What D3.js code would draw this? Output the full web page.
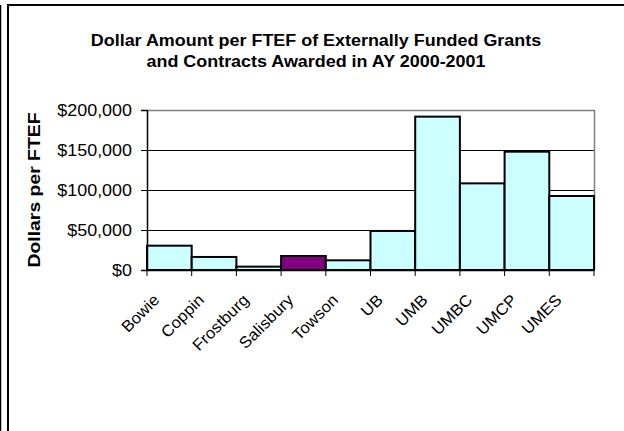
<!DOCTYPE html>
<html>
<head>
<meta charset="utf-8">
<script src="https://cdn.jsdelivr.net/npm/d3@7"></script>
<style>
  html, body { margin: 0; padding: 0; background: #fff; }
  svg { display: block; }
  text { font-family: "Liberation Sans", Arial, sans-serif; fill: #000; }
</style>
</head>
<body>
<script>
// ---- data ----
const categories = ["Bowie", "Coppin", "Frostburg", "Salisbury", "Towson", "UB", "UMB", "UMBC", "UMCP", "UMES"];
const values = [30400, 16300, 4200, 17500, 12100, 48800, 191700, 108300, 147900, 92500];
const highlighted = ["Salisbury"];
const yTickValues = [0, 50000, 100000, 150000, 200000];
const titleLines = ["Dollar Amount per FTEF of Externally Funded Grants", "and Contracts Awarded in AY 2000-2001"];
const yAxisTitle = "Dollars per FTEF";

// ---- layout ----
const W = 624, H = 431;
const plot = { left: 147, right: 594, top: 110, bottom: 270 };

const svg = d3.select("body").append("svg").attr("width", W).attr("height", H);

const x = d3.scaleBand().domain(categories).range([plot.left, plot.right]).padding(0);
const y = d3.scaleLinear().domain([0, 200000]).range([plot.bottom, plot.top]);

function stretch(sel, factor) {
  sel.each(function () {
    const len = this.getComputedTextLength();
    d3.select(this).attr("textLength", len * factor).attr("lengthAdjust", "spacingAndGlyphs");
  });
}

// frame lines
svg.append("line").attr("x1", 0.5).attr("x2", 0.5).attr("y1", 5).attr("y2", H).attr("stroke", "#000").attr("stroke-width", 1.5);
svg.append("line").attr("x1", 8).attr("x2", 8).attr("y1", 4).attr("y2", H).attr("stroke", "#000").attr("stroke-width", 2);
svg.append("line").attr("x1", 7).attr("x2", W).attr("y1", 5).attr("y2", 5).attr("stroke", "#000").attr("stroke-width", 2);

// title
const title = svg.append("g");
titleLines.forEach((t, i) => {
  title.append("text")
    .attr("x", 316).attr("y", 46 + i * 21)
    .attr("text-anchor", "middle")
    .style("font-size", "16px").style("font-weight", "bold")
    .text(t);
});
stretch(title.selectAll("text"), 1.12);

// gridlines
svg.append("g")
  .selectAll("line")
  .data(yTickValues.filter(v => v > 0 && v < 200000))
  .join("line")
  .attr("x1", plot.left).attr("x2", plot.right)
  .attr("y1", d => Math.round(y(d)) + 0.5).attr("y2", d => Math.round(y(d)) + 0.5)
  .attr("stroke", "#000").attr("stroke-width", 1);

// gray plot border (top and right)
svg.append("path")
  .attr("d", `M${plot.left},${plot.top + 0.5}H${plot.right + 0.5}V${plot.bottom}`)
  .attr("fill", "none").attr("stroke", "#808080").attr("stroke-width", 1.5);

// bars
svg.append("g")
  .selectAll("rect")
  .data(categories.map((c, i) => ({ c, v: values[i] })))
  .join("rect")
  .attr("x", d => x(d.c))
  .attr("y", d => y(d.v))
  .attr("width", x.bandwidth())
  .attr("height", d => y(0) - y(d.v))
  .attr("fill", d => highlighted.includes(d.c) ? "#800080" : "#CCFFFF")
  .attr("stroke", "#000").attr("stroke-width", 2);

// y axis
const yAxis = svg.append("g")
  .attr("transform", `translate(${plot.left},0)`)
  .call(d3.axisLeft(y).tickValues(yTickValues).tickSize(6).tickPadding(9)
    .tickFormat(d => "$" + d3.format(",")(d)));
yAxis.select(".domain").attr("stroke", "#000").attr("stroke-width", 1.5);
yAxis.selectAll(".tick line").attr("stroke", "#000");
yAxis.selectAll(".tick text").style("font-size", "16px").attr("font-family", null);
stretch(yAxis.selectAll(".tick text"), 1.12);

// x axis
const xAxis = svg.append("g")
  .attr("transform", `translate(0,${plot.bottom})`)
  .call(d3.axisBottom(x).tickSize(0).tickFormat(""));
xAxis.select(".domain").attr("stroke", "#000").attr("stroke-width", 1.5);
// boundary ticks
xAxis.append("g").selectAll("line")
  .data(d3.range(categories.length + 1))
  .join("line")
  .attr("x1", i => plot.left + i * x.step()).attr("x2", i => plot.left + i * x.step())
  .attr("y1", 0).attr("y2", 6)
  .attr("stroke", "#000").attr("stroke-width", 1);

// category labels
const labels = svg.append("g")
  .selectAll("text")
  .data(categories)
  .join("text")
  .attr("text-anchor", "end")
  .attr("transform", d => `translate(${x(d) + x.bandwidth() / 2 - 9},${plot.bottom + 31}) rotate(-45)`)
  .style("font-size", "16px")
  .text(d => d);
stretch(labels, 1.05);

// y axis title
const yt = svg.append("text")
  .attr("transform", `translate(40,${(plot.top + plot.bottom) / 2}) rotate(-90)`)
  .attr("text-anchor", "middle")
  .style("font-size", "17px").style("font-weight", "bold")
  .text(yAxisTitle);
yt.attr("textLength", 155).attr("lengthAdjust", "spacingAndGlyphs");
</script>
</body>
</html>
